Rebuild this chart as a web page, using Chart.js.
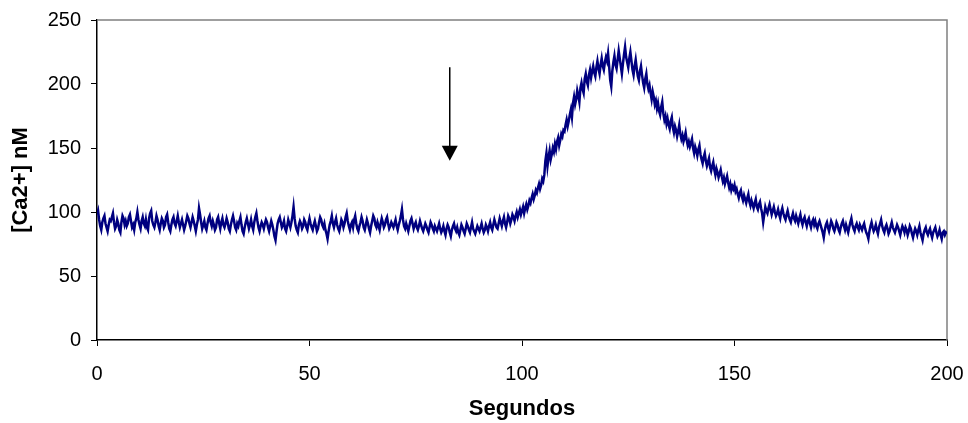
<!DOCTYPE html>
<html>
<head>
<meta charset="utf-8">
<script src="https://cdn.jsdelivr.net/npm/chart.js@4/dist/chart.umd.min.js"></script>
<style>
    html, body { margin: 0; padding: 0; background: #ffffff; }
    #wrap { width: 968px; height: 423px; }
</style>
</head>
<body>
<div id="wrap"><canvas id="calcioChart" width="968" height="423"></canvas></div>
<script>
// muestreo cada 0.25 s, de 0 a 200 s
const intervalo = 0.25;

// 0 - 99.75 s: linea basal
const basal = [
    98, 101, 94, 89, 86, 92, 95, 97, 91, 88, 85, 90, 94, 93, 96, 99, 92, 87, 89, 94,
    91, 86, 84, 92, 97, 95, 90, 93, 89, 91, 96, 98, 93, 88, 90, 86, 92, 95, 100, 94,
    90, 87, 93, 96, 91, 89, 94, 88, 86, 95, 99, 101, 93, 90, 88, 92, 97, 94, 89, 86,
    91, 95, 93, 88, 90, 96, 98, 92, 87, 85, 90, 94, 96, 91, 89, 93, 97, 92, 88, 91,
    94, 90, 86, 89, 93, 97, 95, 91, 88, 92, 96, 93, 89, 85, 90, 94, 103, 98, 92, 87,
    90, 93, 88, 86, 91, 95, 97, 92, 89, 93, 90, 86, 88, 94, 96, 91, 87, 92, 95, 90,
    88, 91, 95, 92, 87, 85, 90, 94, 97, 93, 88, 86, 91, 89, 93, 96, 90, 85, 83, 88,
    92, 95, 91, 87, 90, 94, 89, 86, 92, 96, 99, 93, 88, 85, 89, 92, 90, 87, 91, 94,
    92, 88, 85, 89, 93, 90, 86, 81, 78, 85, 91, 94, 96, 92, 88, 90, 93, 87, 85, 89,
    94, 91, 88, 92, 97, 104, 95, 89, 86, 84, 90, 93, 91, 87, 89, 94, 92, 88, 86, 91,
    95, 91, 88, 86, 90, 93, 89, 85, 87, 92, 96, 94, 90, 88, 91, 86, 83, 79, 85, 90,
    93, 97, 91, 88, 92, 95, 90, 87, 85, 89, 94, 92, 88, 91, 96, 99, 93, 89, 86, 90,
    92, 88, 94, 97, 91, 87, 85, 89, 92, 96, 93, 88, 86, 90, 94, 91, 87, 84, 89, 93,
    97, 95, 90, 88, 92, 89, 86, 91, 95, 92, 88, 90, 94, 96, 91, 87, 89, 92, 90, 88,
    91, 94, 89, 86, 90, 93, 97, 102, 94, 89, 87, 91, 88, 85, 89, 93, 95, 91, 87, 90,
    92, 88, 86, 89, 93, 90, 87, 85, 88, 91, 89, 86, 84, 88, 92, 90, 87, 85, 89, 87,
    85, 88, 91, 87, 84, 86, 89, 85, 82, 87, 90, 88, 84, 81, 86, 89, 91, 87, 85, 88,
    84, 82, 86, 90, 88, 85, 83, 87, 91, 89, 86, 84, 88, 92, 87, 85, 83, 86, 89, 87,
    85, 88, 91, 87, 84, 86, 90, 88, 85, 89, 92, 88, 86, 90, 94, 91, 88, 87, 91, 95,
    92, 89, 93, 96, 91, 88, 92, 97, 95, 91, 94, 98, 96, 93, 97, 100, 96, 99, 102, 98
];

// 100 - 129.75 s: subida y pico
const respuesta = [
    101, 104, 99, 103, 106, 102, 105, 109, 107, 111, 114, 110, 113, 117, 115, 119, 122, 118, 121, 126,
    124, 129, 140, 146, 136, 143, 148, 141, 145, 150, 147, 153, 149, 155, 158, 152, 156, 161, 159, 164,
    163, 168, 172, 167, 171, 176, 180, 174, 185, 190, 184, 188, 195, 191, 186, 197, 201, 196, 193, 204,
    208, 202, 199, 207, 211, 205, 210, 214, 209, 206, 213, 218, 212, 208, 215, 220, 214, 211, 217, 221,
    218, 224, 214, 203, 198, 210, 217, 222, 215, 212, 219, 226, 220, 214, 208, 216, 223, 229, 221, 217,
    213, 220, 225, 218, 211, 207, 214, 219, 212, 206, 203, 210, 214, 207, 201, 197, 204, 208, 200, 196
];

// 130 - 200 s: recuperacion
const recuperacion = [
    199, 193, 188, 194, 190, 184, 187, 181, 185, 179, 176, 182, 186, 177, 172, 175, 169, 173, 168, 165,
    171, 174, 166, 162, 167, 164, 159, 163, 168, 161, 157, 160, 155, 158, 162, 156, 152, 155, 151, 154,
    157, 150, 146, 151, 148, 144, 149, 152, 145, 141, 138, 143, 146, 140, 136, 139, 142, 135, 132, 136,
    139, 133, 129, 134, 131, 127, 130, 133, 128, 124, 127, 122, 125, 128, 123, 119, 122, 117, 120, 118,
    121, 116, 118, 114, 111, 115, 117, 112, 109, 113, 110, 107, 111, 114, 108, 105, 109, 106, 103, 107,
    110, 104, 102, 106, 108, 103, 99, 92, 98, 104, 101, 99, 103, 106, 102, 98, 101, 104, 100, 97,
    99, 102, 98, 95, 100, 103, 99, 96, 94, 98, 101, 97, 94, 92, 96, 99, 95, 93, 97, 94,
    91, 95, 98, 93, 90, 94, 96, 92, 89, 93, 95, 91, 88, 92, 94, 90, 93, 89, 87, 91,
    93, 90, 87, 84, 80, 86, 90, 92, 88, 85, 89, 93, 91, 87, 85, 88, 92, 90, 86, 84,
    88, 91, 93, 89, 86, 90, 87, 84, 88, 92, 95, 90, 87, 85, 89, 91, 88, 86, 90, 88,
    86, 89, 91, 87, 84, 82, 79, 85, 89, 92, 88, 85, 87, 90, 86, 83, 88, 91, 94, 89,
    86, 84, 88, 90, 87, 83, 85, 89, 92, 88, 86, 84, 87, 90, 88, 85, 82, 86, 89, 87,
    84, 88, 86, 82, 85, 89, 87, 83, 80, 84, 87, 85, 82, 86, 89, 84, 81, 78, 83, 86,
    88, 84, 82, 85, 87, 83, 80, 84, 86, 88, 84, 81, 83, 86, 82, 79, 84, 85, 82, 84, 83
];

// flecha: momento del estimulo
const flecha = { t: 83, desde: 213, hasta: 140 };

document.addEventListener("DOMContentLoaded", () => {
    const valores = basal.concat(respuesta, recuperacion);
    const puntos = valores.map((v, i) => ({ x: i * intervalo, y: v }));

    // marco gris arriba y a la derecha (estilo Excel)
    const marco = {
        id: 'marco',
        beforeDatasetsDraw(chart) {
            const { ctx, chartArea: a } = chart;
            ctx.save();
            ctx.strokeStyle = '#808080';
            ctx.lineWidth = 1.5;
            ctx.beginPath();
            ctx.moveTo(a.left, a.top);
            ctx.lineTo(a.right, a.top);
            ctx.lineTo(a.right, a.bottom);
            ctx.stroke();
            ctx.restore();
        }
    };

    // flecha negra sobre el grafico
    const dibujaFlecha = {
        id: 'flecha',
        afterDatasetsDraw(chart) {
            const { ctx, scales } = chart;
            const x = scales.x.getPixelForValue(flecha.t);
            const y1 = scales.y.getPixelForValue(flecha.desde);
            const y2 = scales.y.getPixelForValue(flecha.hasta);
            ctx.save();
            ctx.strokeStyle = '#000';
            ctx.fillStyle = '#000';
            ctx.lineWidth = 1.5;
            ctx.beginPath();
            ctx.moveTo(x, y1);
            ctx.lineTo(x, y2 - 12);
            ctx.stroke();
            ctx.beginPath();
            ctx.moveTo(x - 8, y2 - 15);
            ctx.lineTo(x + 8, y2 - 15);
            ctx.lineTo(x, y2);
            ctx.closePath();
            ctx.fill();
            ctx.restore();
        }
    };

    new Chart(document.getElementById('calcioChart'), {
        type: 'line',
        data: {
            datasets: [{
                data: puntos,
                borderColor: '#000080',
                borderWidth: 2.5,
                pointRadius: 0,
                tension: 0,
                fill: false
            }]
        },
        options: {
            responsive: false,
            animation: false,
            layout: { padding: { left: 0, top: 20, right: 21, bottom: 0 } },
            plugins: {
                legend: { display: false },
                tooltip: { enabled: false }
            },
            scales: {
                x: {
                    type: 'linear',
                    min: 0,
                    max: 200,
                    afterFit: s => {
                        s.height = 83;
                        s.paddingLeft = 0;
                        s.paddingRight = 0;
                    },
                    border: { display: true, color: '#000', width: 1.5 },
                    grid: { drawOnChartArea: false, drawTicks: true, tickLength: 6, color: '#000' },
                    ticks: {
                        stepSize: 50,
                        color: '#000',
                        padding: 16,
                        maxRotation: 0,
                        font: { family: 'Liberation Sans', size: 20 }
                    },
                    title: {
                        display: true,
                        text: 'Segundos',
                        color: '#000',
                        padding: { top: 0, bottom: 1 },
                        font: { family: 'Liberation Sans', size: 22, weight: 'bold' }
                    }
                },
                y: {
                    min: 0,
                    max: 250,
                    afterFit: s => {
                        s.width = 97;
                        s.paddingTop = 0;
                        s.paddingBottom = 0;
                    },
                    border: { display: true, color: '#000', width: 1.5 },
                    grid: { drawOnChartArea: false, drawTicks: true, tickLength: 6, color: '#000' },
                    ticks: {
                        stepSize: 50,
                        color: '#000',
                        padding: 10,
                        font: { family: 'Liberation Sans', size: 20 }
                    },
                    title: {
                        display: true,
                        text: '[Ca2+] nM',
                        color: '#000',
                        padding: { top: 8, bottom: 0 },
                        font: { family: 'Liberation Sans', size: 22, weight: 'bold' }
                    }
                }
            }
        },
        plugins: [marco, dibujaFlecha]
    });
});
</script>
</body>
</html>
